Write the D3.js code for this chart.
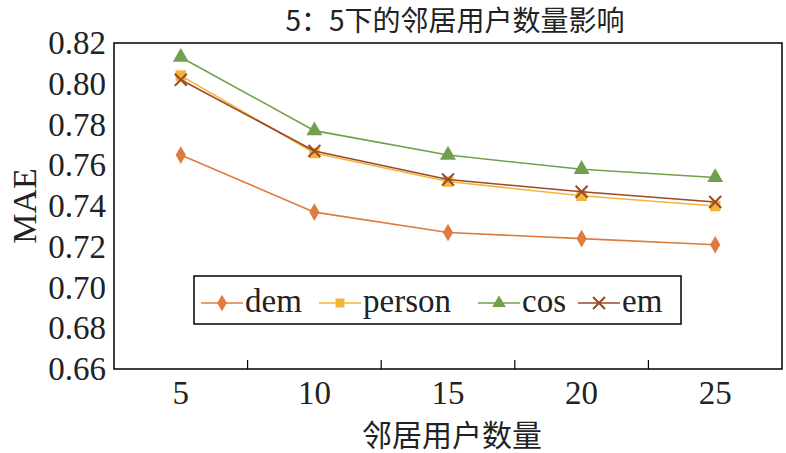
<!DOCTYPE html>
<html><head><meta charset="utf-8">
<script src="https://cdn.jsdelivr.net/npm/d3@7"></script>
<style>body{margin:0;background:#fff} .sf{font-family:"Liberation Serif","DejaVu Serif",serif !important}</style></head>
<body><svg id="c" width="786" height="453"></svg>
<script>
const categories=["5","10","15","20","25"];
const dem=[0.765,0.737,0.727,0.724,0.721];
const person=[0.804,0.766,0.752,0.745,0.740];
const cos=[0.813,0.777,0.765,0.758,0.754];
const em=[0.802,0.767,0.753,0.747,0.742];
const yTicks=[0.66,0.68,0.70,0.72,0.74,0.76,0.78,0.80,0.82];
const series=[
 {name:"dem",values:dem,color:"#E07B3F",sym:"diamond"},
 {name:"person",values:person,color:"#F4B43A",sym:"square"},
 {name:"cos",values:cos,color:"#72A04A",sym:"triangle"},
 {name:"em",values:em,color:"#9A4A26",sym:"x"}];
const svg=d3.select("#c");
const L=114,R=782,T=43,B=369;
const cjk="'Noto Sans CJK SC',sans-serif";
const x=d3.scaleBand().domain(categories).range([L,R]);
const y=d3.scaleLinear().domain([0.66,0.82]).range([B,T]);
svg.append("rect").attr("x",L).attr("y",T).attr("width",R-L).attr("height",B-T).attr("fill","none").attr("stroke","#000").attr("stroke-width",1.5);
const ya=svg.append("g").attr("transform",`translate(${L},0)`).call(d3.axisLeft(y).tickValues(yTicks).tickFormat(d3.format(".2f")).tickSize(0).tickPadding(8));
ya.attr("font-family",null);
ya.select(".domain").remove();
ya.selectAll("text").attr("class","sf").attr("font-size",33).attr("fill","#222");
const xa=svg.append("g").attr("transform",`translate(0,${B})`).call(d3.axisBottom(x).tickSize(0).tickPadding(12));
xa.attr("font-family",null);
xa.select(".domain").remove();
xa.selectAll("text").attr("class","sf").attr("font-size",33).attr("fill","#222");
categories.slice(1).forEach(c=>{const xx=x(c);svg.append("line").attr("x1",xx).attr("x2",xx).attr("y1",B).attr("y2",B-9).attr("stroke","#000").attr("stroke-width",1.2);});
function sym(g,s,color,cx,cy,sz){
 if(s==="x"){g.append("path").attr("d",`M${cx-6},${cy-6}L${cx+6},${cy+6}M${cx-6},${cy+6}L${cx+6},${cy-6}`).attr("stroke",color).attr("stroke-width",2);return;}
 const t={diamond:d3.symbolDiamond,square:d3.symbolSquare,triangle:d3.symbolTriangle}[s];
 g.append("path").attr("d",d3.symbol(t,sz)).attr("transform",`translate(${cx},${cy})`).attr("fill",color);
}
const line=d3.line().x((d,i)=>x(categories[i])+x.bandwidth()/2).y(d=>y(d));
series.forEach(s=>{
 svg.append("path").datum(s.values).attr("d",line).attr("fill","none").attr("stroke",s.color).attr("stroke-width",1.6);
 const g=svg.append("g");
 s.values.forEach((v,i)=>sym(g,s.sym,s.color,x(categories[i])+x.bandwidth()/2,y(v),s.sym==="diamond"?90:110));
});
svg.append("rect").attr("x",194).attr("y",276).attr("width",487).attr("height",48).attr("fill","#fff").attr("stroke","#000").attr("stroke-width",1.5);
const lx=[201,319,478,578], ly=301;
series.forEach((s,i)=>{
 svg.append("line").attr("x1",lx[i]).attr("x2",lx[i]+42).attr("y1",ly+2).attr("y2",ly+2).attr("stroke",s.color).attr("stroke-width",1.6);
 const g=svg.append("g"); sym(g,s.sym,s.color,lx[i]+21,ly+2,80);
 svg.append("text").attr("class","sf").attr("x",lx[i]+44).attr("y",ly+11).text(s.name).attr("font-size",33).attr("fill","#222");
});
svg.append("text").attr("x",455).attr("y",31).attr("text-anchor","middle").text("5：5下的邻居用户数量影响").attr("font-family",cjk).attr("font-size",28).attr("fill","#222");
svg.append("text").attr("x",452).attr("y",446).attr("text-anchor","middle").text("邻居用户数量").attr("font-family",cjk).attr("font-size",30).attr("fill","#222");
svg.append("text").attr("class","sf").attr("transform","translate(36,206) rotate(-90)").attr("text-anchor","middle").text("MAE").attr("font-size",34).attr("fill","#222");
</script></body></html>
